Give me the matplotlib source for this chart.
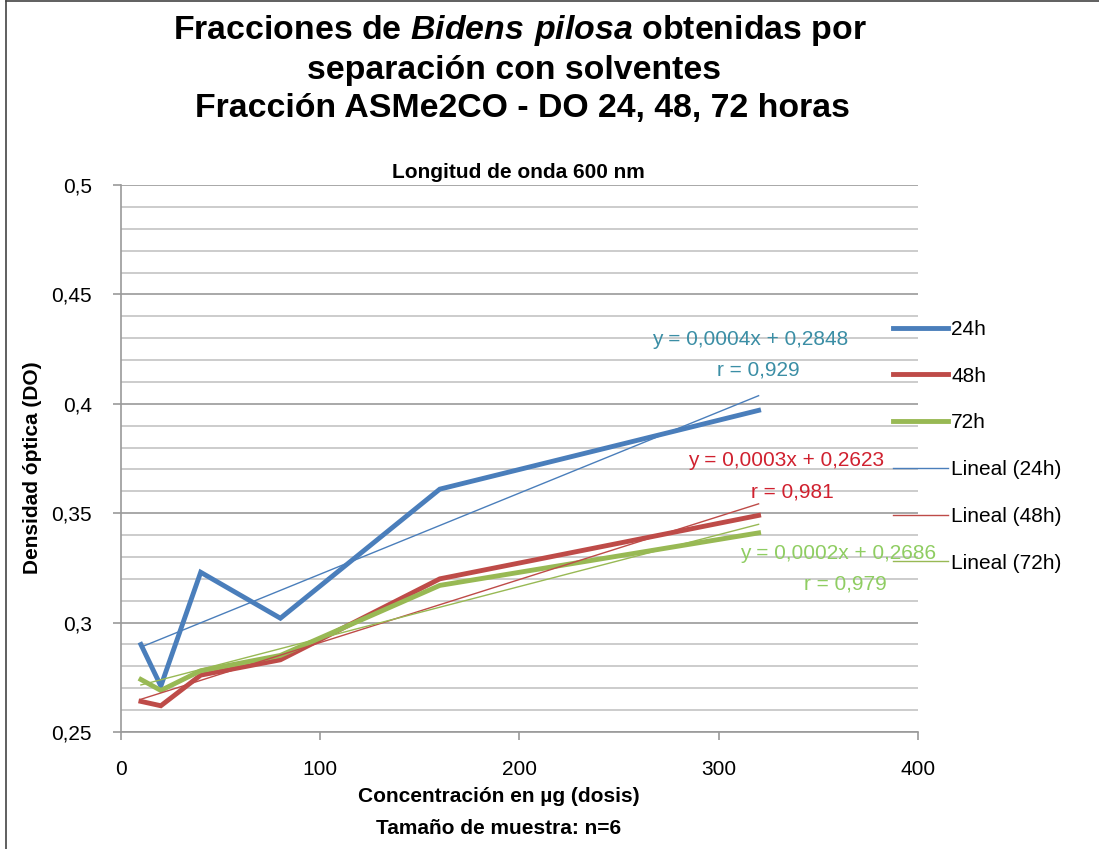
import numpy as np
import matplotlib
matplotlib.use("Agg")
import matplotlib.pyplot as plt
from matplotlib.lines import Line2D
from matplotlib.ticker import MultipleLocator, FuncFormatter

plt.rcParams["font.family"] = ["Liberation Sans", "DejaVu Sans"]
plt.rcParams["mathtext.fontset"] = "custom"
plt.rcParams["mathtext.bfit"] = "Liberation Sans:italic:bold"
plt.rcParams["mathtext.rm"] = "Liberation Sans:bold"

# datos: concentración (µg) y densidad óptica
dosis = [10, 20, 40, 80, 160, 320]
do_24h = [0.290, 0.271, 0.323, 0.302, 0.361, 0.397]
do_48h = [0.264, 0.262, 0.276, 0.283, 0.320, 0.349]
do_72h = [0.274, 0.269, 0.278, 0.285, 0.317, 0.341]

series_names = ["24h", "48h", "72h"]
eq_labels = ["y = 0,0004x + 0,2848", "y = 0,0003x + 0,2623", "y = 0,0002x + 0,2686"]
r_labels = ["r = 0,929", "r = 0,981", "r = 0,979"]

line_colors = ["#4a7ebb", "#be4b48", "#98b954"]
text_colors = ["#3b8ea5", "#d0212f", "#8fcd62"]

fig = plt.figure(figsize=(10.99, 8.49), dpi=100)
ax = fig.add_axes([0.1101, 0.1378, 0.7252, 0.6443])

ys = [do_24h, do_48h, do_72h]
for y, c in zip(ys, line_colors):
    ax.plot(dosis, y, color=c, lw=3.5, solid_joinstyle="miter", zorder=3)

# líneas de tendencia (ajuste lineal)
x_fit = np.array([min(dosis), max(dosis)])
for y, c in zip(ys, line_colors):
    m, b = np.polyfit(dosis, y, 1)
    ax.plot(x_fit, m * x_fit + b, color=c, lw=1.0, zorder=4)

eq_pos = [(316, 0.4296), (334, 0.3739), (360, 0.3318)]
r_pos = [(320, 0.4155), (337, 0.3597), (363.5, 0.3176)]
for i in range(3):
    ax.text(*eq_pos[i], eq_labels[i], color=text_colors[i], fontsize=15,
            ha="center", va="center", clip_on=False, zorder=5)
    ax.text(*r_pos[i], r_labels[i], color=text_colors[i], fontsize=15,
            ha="center", va="center", clip_on=False, zorder=5)

ax.set_xlim(0, 400)
ax.set_ylim(0.25, 0.5)
ax.xaxis.set_major_locator(MultipleLocator(100))
ax.yaxis.set_major_locator(MultipleLocator(0.05))
ax.yaxis.set_minor_locator(MultipleLocator(0.01))
ax.yaxis.set_major_formatter(FuncFormatter(lambda v, p: f"{v:.2f}".rstrip("0").replace(".", ",")))
ax.grid(axis="y", which="major", color="#9a9a9a", lw=1.2)
ax.grid(axis="y", which="minor", color="#c4c4c4", lw=1.2)
ax.set_axisbelow(True)
for s in ["top", "right"]:
    ax.spines[s].set_visible(False)
for s in ["left", "bottom"]:
    ax.spines[s].set_color("#9a9a9a")
    ax.spines[s].set_linewidth(1.2)
ax.tick_params(axis="both", which="major", labelsize=15, color="#9a9a9a",
               length=6, width=1.2, direction="out")
ax.tick_params(axis="y", which="minor", length=0)
ax.tick_params(axis="y", pad=15)
ax.tick_params(axis="x", pad=14)

ax.set_ylabel("Densidad óptica (DO)", fontsize=15, fontweight="bold")
ax.yaxis.set_label_coords(-0.099, 0.4835)
ax.set_xlabel("Concentración en µg (dosis)", fontsize=15, fontweight="bold")
ax.xaxis.set_label_coords(0.474, -0.1)

fig.text(0.4735, 1 - 30 / 849, r"Fracciones de $\mathbfit{Bidens\ pilosa}$ obtenidas por",
         fontsize=24.4, fontweight="bold", ha="center", va="center")
fig.text(0.468, 1 - 70 / 849, "separación con solventes",
         fontsize=24.4, fontweight="bold", ha="center", va="center")
fig.text(0.475, 1 - 108 / 849, "Fracción ASMe2CO - DO 24, 48, 72 horas",
         fontsize=24.4, fontweight="bold", ha="center", va="center")
fig.text(0.472, 1 - 172 / 849, "Longitud de onda 600 nm",
         fontsize=15, fontweight="bold", ha="center", va="center")
fig.text(0.454, 1 - 828 / 849, "Tamaño de muestra: n=6",
         fontsize=15, fontweight="bold", ha="center", va="center")

handles = [Line2D([], [], color=c, lw=3.5) for c in line_colors] + \
          [Line2D([], [], color=c, lw=1.0) for c in line_colors]
labels = series_names + ["Lineal (" + n + ")" for n in series_names]
fig.legend(handles, labels, loc="upper left", bbox_to_anchor=(893 / 1099, 1 - 320 / 849),
           frameon=False, fontsize=15, handlelength=2.64, handletextpad=0.15,
           labelspacing=1.33, borderaxespad=0, borderpad=0)

# marco del gráfico (borde izquierdo y superior)
fig.add_artist(Line2D([6 / 1099, 6 / 1099], [0, 1 - 1 / 849], transform=fig.transFigure,
                      color="#444444", lw=1.2))
fig.add_artist(Line2D([6 / 1099, 1], [1 - 1 / 849, 1 - 1 / 849], transform=fig.transFigure,
                      color="#444444", lw=1.2))

fig.savefig("out.png", dpi=100)
